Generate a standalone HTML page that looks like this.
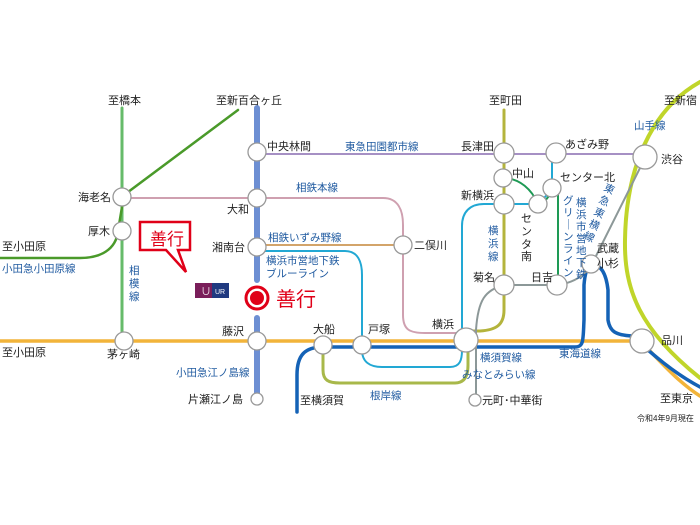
<!DOCTYPE html>
<html><head><meta charset="utf-8"><style>
body{margin:0;background:#fff}
svg{display:block}
text{font-family:"Liberation Sans","Noto Sans CJK JP",sans-serif;font-size:11px;fill:#222}
.b{fill:#1f5aa0;font-size:10.5px}
.s{fill:#fff;stroke:#999;stroke-width:1.3}
</style></head><body>
<svg width="700" height="525" viewBox="0 0 700 525" xmlns="http://www.w3.org/2000/svg">
<g fill="none" stroke-linecap="round">
<path d="M700 82 C650 110 626 170 625 240 C624 290 640 330 700 378" stroke="#c0d52a" stroke-width="4"/>
<path d="M0 341 H640 C655 355 675 380 700 396" stroke="#f2b43a" stroke-width="3.5"/>
<path d="M297 412 V375 C297 355 305 347 323 347 H575 C584 347 583 340 584 320 V285 C585 272 588 266 591 264 C600 264 606 272 608 290 V320 C610 332 616 335 632 336 C650 352 672 372 700 387" stroke="#1462b6" stroke-width="3.5"/>
<path d="M122 108 V341" stroke="#66bb6a" stroke-width="3"/>
<path d="M238 110 L124 195 L118 231 C116 250 100 258 80 258 H0" stroke="#4a9a2a" stroke-width="2.5"/>
<path d="M257 108 V280 M257 318 V399" stroke="#6d8fd3" stroke-width="6"/>
<path d="M257 154 H645" stroke="#a690c4" stroke-width="2"/>
<path d="M122 198 H383 C398 198 403 210 403 225 V315 C403 330 410 333 425 333 H466" stroke="#cfa0b0" stroke-width="2"/>
<path d="M257 245 H403" stroke="#d3a46a" stroke-width="2"/>
<path d="M257 251 H345 C358 251 362 262 362 275 V350 C362 362 370 367 382 367 H450 C460 367 462 360 462 350 V226 C462 212 470 204 484 204 H538 L552 190 V154" stroke="#22a8d4" stroke-width="2"/>
<path d="M503 178 C520 178 532 190 538 204 C546 202 550 196 552 188 M558 190 V285" stroke="#1e9a55" stroke-width="2"/>
<path d="M504 110 V310 C504 325 496 330 480 331 H466" stroke="#b4b43c" stroke-width="3"/>
<path d="M323 347 V370 C323 380 328 383 340 383 H455 C465 383 468 375 468 365 V342" stroke="#a8b84a" stroke-width="3"/>
<path d="M645 158 L596 256 C590 270 580 282 557 285 H504 C485 290 478 300 476 330 V400" stroke="#8c9898" stroke-width="2"/>
</g>
<g>
<circle cx="122" cy="197" r="9" class="s"/><circle cx="122" cy="231" r="9" class="s"/><circle cx="124" cy="341" r="9" class="s"/>
<circle cx="257" cy="152" r="9" class="s"/><circle cx="257" cy="198" r="9" class="s"/><circle cx="257" cy="247" r="9" class="s"/><circle cx="257" cy="341" r="9" class="s"/><circle cx="257" cy="399" r="6" class="s"/>
<circle cx="323" cy="345" r="9" class="s"/><circle cx="362" cy="345" r="9" class="s"/><circle cx="466" cy="340" r="12" class="s"/><circle cx="403" cy="245" r="9" class="s"/>
<circle cx="504" cy="153" r="10" class="s"/><circle cx="556" cy="153" r="10" class="s"/><circle cx="503" cy="178" r="9" class="s"/><circle cx="504" cy="204" r="10" class="s"/><circle cx="538" cy="204" r="9" class="s"/><circle cx="552" cy="188" r="9" class="s"/>
<circle cx="504" cy="285" r="10" class="s"/><circle cx="557" cy="285" r="10" class="s"/><circle cx="591" cy="264" r="9" class="s"/>
<circle cx="645" cy="157" r="12" class="s"/><circle cx="642" cy="341" r="12" class="s"/><circle cx="475" cy="400" r="6" class="s"/>
</g>
<circle cx="257" cy="298" r="11" fill="#fff" stroke="#e00018" stroke-width="3"/>
<circle cx="257" cy="298" r="7" fill="#e00018"/>
<text x="276" y="306" style="font-size:20px;fill:#e00018">善行</text>
<path d="M140 222 H190 V250 H178 L186 272 L166 250 H140 Z" fill="#fff" stroke="#e00018" stroke-width="2.5"/>
<text x="150" y="245" style="font-size:17px;fill:#e00018">善行</text>
<rect x="195" y="283" width="17" height="15" fill="#7a1e5a"/><rect x="212" y="283" width="17" height="15" fill="#203a80"/>
<text x="201" y="295" style="font-size:10px;fill:#fff">∪</text><text x="215" y="294" style="font-size:7px;fill:#fff">UR</text>
<text x="108" y="104">至橋本</text><text x="216" y="104">至新百合ヶ丘</text><text x="489" y="104">至町田</text><text x="664" y="104">至新宿</text>
<text x="78" y="201">海老名</text><text x="88" y="235">厚木</text><text x="107" y="358">茅ヶ崎</text>
<text x="2" y="250">至小田原</text><text class="b" x="2" y="272">小田急小田原線</text><text x="2" y="356">至小田原</text>
<text class="b" x="129" y="274">相</text><text class="b" x="129" y="287">模</text><text class="b" x="129" y="300">線</text>
<text x="267" y="150">中央林間</text><text x="227" y="213">大和</text><text x="212" y="251">湘南台</text><text x="222" y="335">藤沢</text>
<text class="b" x="176" y="376">小田急江ノ島線</text><text x="188" y="403">片瀬江ノ島</text>
<text class="b" x="345" y="150">東急田園都市線</text><text class="b" x="296" y="191">相鉄本線</text><text class="b" x="268" y="241">相鉄いずみ野線</text>
<text class="b" x="266" y="264">横浜市営地下鉄</text><text class="b" x="266" y="277">ブルーライン</text>
<text x="414" y="249">二俣川</text><text x="313" y="333">大船</text><text x="368" y="333">戸塚</text><text x="432" y="328">横浜</text>
<text x="300" y="404">至横須賀</text><text class="b" x="370" y="399">根岸線</text><text x="482" y="404">元町･中華街</text>
<text class="b" x="480" y="361">横須賀線</text><text class="b" x="462" y="378">みなとみらい線</text><text class="b" x="559" y="357">東海道線</text>
<text x="461" y="150">長津田</text><text x="565" y="148">あざみ野</text><text x="512" y="177">中山</text><text x="560" y="181">センター北</text><text x="461" y="199">新横浜</text>
<text class="b" x="488" y="234">横</text><text class="b" x="488" y="247">浜</text><text class="b" x="488" y="260">線</text>
<text x="521" y="222">セ</text><text x="521" y="235">ン</text><text x="521" y="248">タ</text><text x="521" y="260">南</text>
<text class="b" x="576" y="206">横</text><text class="b" x="576" y="218">浜</text><text class="b" x="576" y="230">市</text><text class="b" x="576" y="242">営</text><text class="b" x="576" y="254">地</text><text class="b" x="576" y="266">下</text><text class="b" x="576" y="278">鉄</text>
<text class="b" x="563" y="204">グ</text><text class="b" x="563" y="216">リ</text><text class="b" x="563" y="228">｜</text><text class="b" x="563" y="240">ン</text><text class="b" x="563" y="252">ラ</text><text class="b" x="563" y="264">イ</text><text class="b" x="563" y="276">ン</text>
<text x="473" y="281">菊名</text><text x="531" y="281">日吉</text><text x="597" y="252">武蔵</text><text x="597" y="267">小杉</text>
<text class="b" x="634" y="129">山手線</text><text x="661" y="163">渋谷</text><text x="661" y="344">品川</text><text x="660" y="402">至東京</text>
<text class="b" transform="translate(603,190) rotate(25)">東</text>
<text class="b" transform="translate(598,202) rotate(25)">急</text>
<text class="b" transform="translate(593,214) rotate(25)">東</text>
<text class="b" transform="translate(588,226) rotate(25)">横</text>
<text class="b" transform="translate(583,238) rotate(25)">線</text>
<text x="637" y="421" style="font-size:8px">令和4年9月現在</text>
</svg>
</body></html>
